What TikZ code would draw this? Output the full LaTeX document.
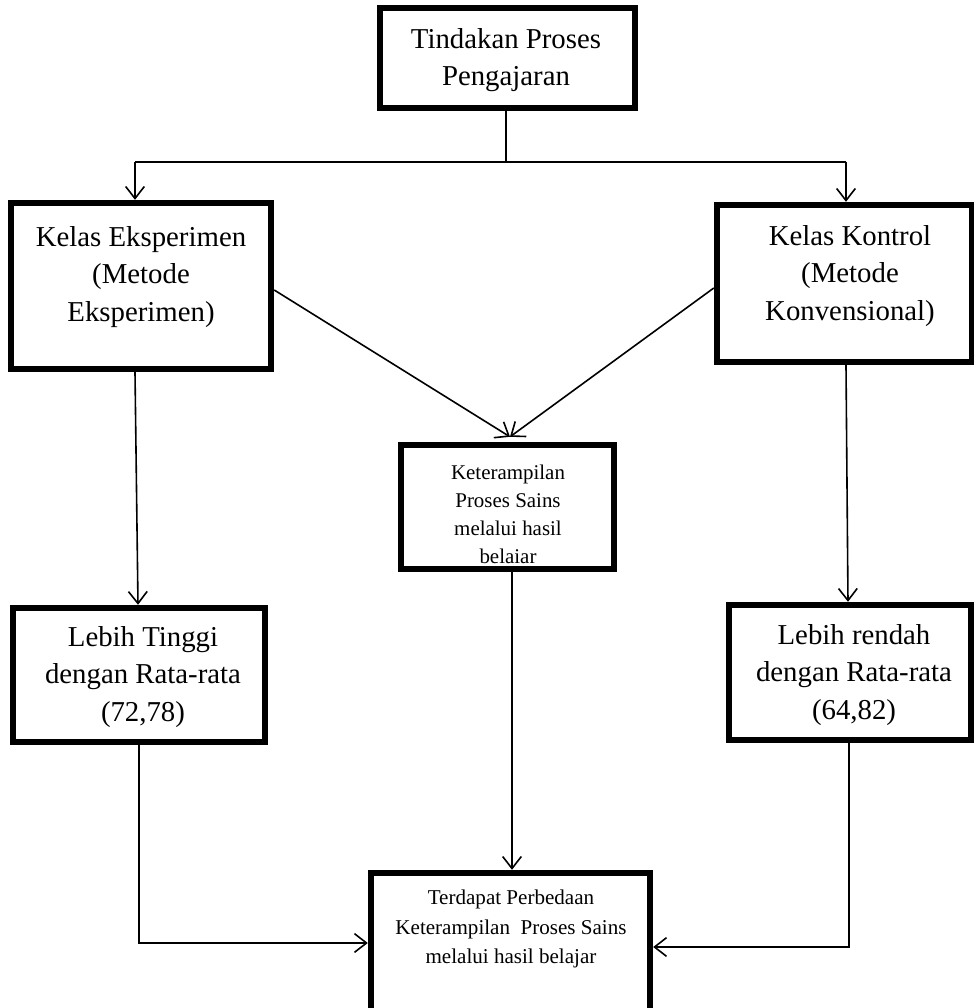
\documentclass[tikz,border=0pt]{standalone}
\usepackage{fontspec}
\setmainfont{Liberation Serif}
\usetikzlibrary{arrows.meta,calc}
\begin{document}
\begin{tikzpicture}[x=0.75pt,y=-0.75pt,
  box/.style={draw,line width=4.8pt,inner sep=0pt,rectangle},
  big/.style={align=center,font=\fontsize{21.6}{28}\selectfont,inner sep=0pt},
  small/.style={align=center,font=\fontsize{15.7}{21}\selectfont,inner sep=0pt},
  bottomtxt/.style={align=center,font=\fontsize{15.8}{22}\selectfont,inner sep=0pt},
  conn/.style={line width=1.2pt},
  arr/.style={conn,-{Straight Barb[length=9pt,width=14pt,line width=1.2pt]}}]
\useasboundingbox (0,0) rectangle (974,1008);

% boxes
\node[box,minimum width={255*0.75pt},minimum height={100*0.75pt}] (top) at (507.5,58) {};
\node[box,minimum width={260*0.75pt},minimum height={166*0.75pt}] (ke) at (141,286) {};
\node[box,minimum width={255*0.75pt},minimum height={157*0.75pt}] (kk) at (844.5,283.5) {};
\node[box,minimum width={213*0.75pt},minimum height={124*0.75pt}] (ks) at (507.5,507) {};
\node[box,minimum width={252*0.75pt},minimum height={134*0.75pt}] (lt) at (139,675) {};
\node[box,minimum width={242*0.75pt},minimum height={135*0.75pt}] (lr) at (850,672.5) {};
\node[box,minimum width={279*0.75pt},minimum height={154*0.75pt}] (tp) at (510.5,950) {};

% texts
\node[big] (ttop) at (506,60) {Tindakan Proses\\Pengajaran};
\node[big] (tke) at (141,277) {Kelas Eksperimen\\(Metode\\Eksperimen)};
\node[big] (tkk) at (850,276) {Kelas Kontrol\\(Metode\\Konvensional)};
\node[small] (tks) at (508,514) {Keterampilan\\Proses Sains\\melalui hasil\\belaiar};
\node[big] (tlt) at (143,677) {Lebih Tinggi\\dengan Rata-rata\\(72,78)};
\node[big] (tlr) at (854,675) {Lebih rendah\\dengan Rata-rata\\(64,82)};
\node[bottomtxt] (ttp) at (511,929) {Terdapat Perbedaan\\Keterampilan\ \ Proses Sains\\melalui hasil belajar};

% connectors
\coordinate (jn) at (506,162);
\coordinate (jl) at (135,162);
\coordinate (jr) at (846,162);
\draw[conn] ($(top.south)+(-1.5,0)$) -- (jn);
\draw[conn] (jl) -- (jr);
\draw[arr] (jl) -- (jl |- ke.north);
\draw[arr] (jr) -- (jr |- kk.north);

\coordinate (m) at ($(ks.north)+(2.5,-5)$);
\draw[arr] ($(ke.east)+(0,4)$) -- (m);
\draw[arr] ($(kk.west)+(0,4.5)$) -- (m);

\draw[arr] ($(ke.south)+(-6,0)$) -- ($(lt.north)+(-1,0)$);
\draw[arr] ($(kk.south)+(1.5,0)$) -- ($(lr.north)+(-2,0)$);
\draw[arr] ($(ks.south)+(4.5,0)$) -- ($(tp.north)+(1.5,0)$);
\draw[arr] (lt.south) |- ($(tp.west)+(0,-7)$);
\draw[arr] ($(lr.south)+(-1,0)$) |- ($(tp.east)+(0,-3)$);
\end{tikzpicture}
\end{document}
